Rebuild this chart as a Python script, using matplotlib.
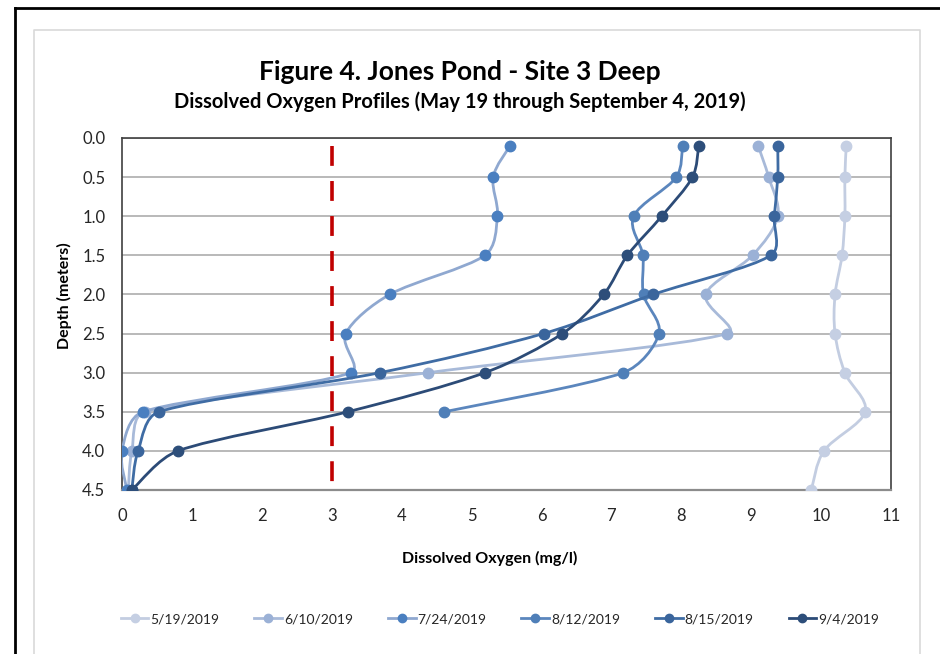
import numpy as np
import matplotlib
matplotlib.use("Agg")
import matplotlib.pyplot as plt
from matplotlib.path import Path
from matplotlib.patches import PathPatch
from matplotlib.lines import Line2D

plt.rcParams['font.family'] = ['Lato', 'DejaVu Sans']

# depth of each reading (m)
depths = [0.1, 0.5, 1.0, 1.5, 2.0, 2.5, 3.0, 3.5, 4.0, 4.5]

# dissolved oxygen (mg/l) per survey date
do_0519 = [10.36, 10.34, 10.34, 10.30, 10.20, 10.20, 10.34, 10.63, 10.04, 9.86]
do_0610 = [9.10, 9.25, 9.38, 9.02, 8.35, 8.66, 4.38, 0.33, 0.14, 0.09]
do_0724 = [5.55, 5.31, 5.37, 5.19, 3.83, 3.20, 3.27, 0.30, 0.00, 0.07]
do_0812 = [8.02, 7.93, 7.32, 7.45, 7.46, 7.68, 7.17, 4.61]
do_0815 = [9.38, 9.38, 9.33, 9.28, 7.60, 6.03, 3.69, 0.53, 0.23, 0.14]
do_0904 = [8.25, 8.16, 7.72, 7.23, 6.89, 6.30, 5.19, 3.23, 0.80, 0.14]

labels = ["5/19/2019", "6/10/2019", "7/24/2019", "8/12/2019", "8/15/2019", "9/4/2019"]
line_colors = ["#c3cde1", "#a8bad9", "#8fa8d0", "#5b86bd", "#3f6ca4", "#2c4b77"]
marker_colors = ["#c5cfe3", "#9bb1d6", "#4a7fc0", "#4f7fb8", "#3a659c", "#2d4e7a"]

# 3 mg/l threshold line
threshold = 3
threshold_depths = [0.1, 4.5]

# approx pixels per data unit, used so the smoothing behaves like it does on screen
PX_X = 69.9
PX_Y = 78.2


def smooth_path(xs, ys, limit=0.35):
    # Excel-style smoothed line: cubic bezier through the points,
    # handles clipped to a fraction of the neighbouring segment
    pts = np.column_stack([np.asarray(xs) * PX_X, np.asarray(ys) * PX_Y])
    n = len(pts)
    tang = []
    for i in range(n):
        a = pts[i - 1] if i > 0 else pts[i]
        b = pts[i + 1] if i < n - 1 else pts[i]
        tang.append((b - a) / 6.0)
    verts = [pts[0]]
    codes = [Path.MOVETO]
    for i in range(n - 1):
        p1, p2 = pts[i], pts[i + 1]
        seg = np.hypot(*(p2 - p1))
        t1, t2 = tang[i], tang[i + 1]
        l1, l2 = np.hypot(*t1), np.hypot(*t2)
        if l1 > limit * seg:
            t1 = t1 * limit * seg / l1
        if l2 > limit * seg:
            t2 = t2 * limit * seg / l2
        verts += [p1 + t1, p2 - t2, p2]
        codes += [Path.CURVE4] * 3
    verts = np.array(verts) / [PX_X, PX_Y]
    return Path(verts, codes)


fig = plt.figure(figsize=(9.4, 6.54), dpi=100)
ax = fig.add_axes([122 / 940, 1 - 490 / 654, (891 - 122) / 940, (490 - 138) / 654])

series = [do_0519, do_0610, do_0724, do_0812, do_0815, do_0904]
handles = []
for k, vals in enumerate(series):
    d = depths[:len(vals)]
    patch = PathPatch(smooth_path(vals, d), fill=False, edgecolor=line_colors[k],
                      lw=2.0, zorder=3 + k, capstyle='round', joinstyle='round')
    ax.add_patch(patch)
    ax.plot(vals, d, linestyle='none', marker='o', ms=7.5,
            color=marker_colors[k], mec=marker_colors[k], zorder=3.5 + k)
    handles.append(Line2D([], [], color=line_colors[k], lw=2.0, marker='o', ms=6,
                          mfc=marker_colors[k], mec=marker_colors[k]))

ax.plot([threshold, threshold], threshold_depths, color="#c00000", lw=2.6,
        dashes=(5.5, 4.2), zorder=2)

ax.set_xlim(0, 11)
ax.set_ylim(4.5, 0)
ax.set_xticks(range(0, 12))
ax.set_yticks(np.arange(0, 4.51, 0.5))
ax.set_yticklabels([f"{v:.1f}" for v in np.arange(0, 4.51, 0.5)])
ax.tick_params(length=0, labelsize=12, colors="#262626", pad=12)
ax.tick_params(axis='x', pad=13)
ax.grid(axis='y', color="#a6a6a6", lw=1.1, zorder=1)
ax.set_axisbelow(True)
for side in ['top', 'left', 'right']:
    ax.spines[side].set_color("#404040")
    ax.spines[side].set_linewidth(1.2)
ax.spines['bottom'].set_color("#8c8c8c")
ax.spines['bottom'].set_linewidth(1.6)

fig.text(460 / 940, 1 - 72 / 654, "Figure 4. Jones Pond - Site 3 Deep",
         ha='center', va='center', fontsize=19, fontweight='bold', color="#000000")
fig.text(460 / 940, 1 - 102 / 654, "Dissolved Oxygen Profiles (May 19 through September 4, 2019)",
         ha='center', va='center', fontsize=14.5, fontweight='bold', color="#000000")
fig.text(490 / 940, 1 - 558 / 654, "Dissolved Oxygen (mg/l)",
         ha='center', va='center', fontsize=11.5, fontweight='bold', color="#000000")
fig.text(64 / 940, 1 - 296 / 654, "Depth (meters)", rotation=90,
         ha='center', va='center', fontsize=11.5, fontweight='bold', color="#000000")

fig.legend(handles, labels, loc='center', bbox_to_anchor=(500 / 940, 1 - 619 / 654),
           ncol=6, frameon=False, fontsize=10, handlelength=2.0, handletextpad=0.15,
           columnspacing=2.5, labelcolor="#262626")

# outer frame and chart-area border
fig.add_artist(Line2D([15 / 940, 15 / 940], [0, 1 - 8 / 654], color='black', lw=2.0))
fig.add_artist(Line2D([15 / 940, 1], [1 - 8 / 654, 1 - 8 / 654], color='black', lw=2.0))
fig.add_artist(Line2D([34 / 940, 34 / 940, 920 / 940, 920 / 940],
                      [0, 1 - 30 / 654, 1 - 30 / 654, 0], color="#d9d9d9", lw=1.2))

fig.savefig("out.png", dpi=100)
